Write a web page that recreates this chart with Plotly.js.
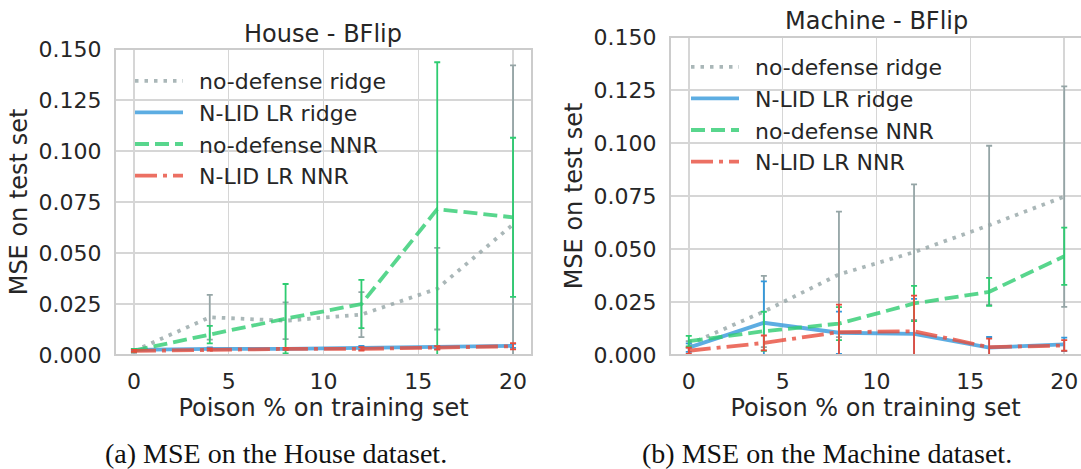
<!DOCTYPE html>
<html>
<head>
<meta charset="utf-8">
<script src="https://cdn.plot.ly/plotly-3.0.1.min.js"></script>
<style>html,body{margin:0;padding:0;background:#fff;}#chart{width:1081px;height:469px;}</style>
</head>
<body>
<div id="chart"></div>
<script>
// ---- data ----
const poisonPct = [0, 4, 8, 12, 16, 20];
const seriesNames = ["no-defense ridge", "N-LID LR ridge", "no-defense NNR", "N-LID LR NNR"];

// House dataset (MSE mean and std)
const houseNoDefRidge    = [0.0020, 0.0185, 0.0168, 0.0198, 0.0325, 0.0640];
const houseNoDefRidgeErr = [0.0010, 0.0110, 0.0090, 0.0110, 0.0200, 0.0780];
const houseNlidRidge     = [0.0025, 0.0030, 0.0030, 0.0035, 0.0037, 0.0045];
const houseNlidRidgeErr  = [0.0005, 0.0007, 0.0005, 0.0010, 0.0008, 0.0010];
const houseNoDefNNR      = [0.0022, 0.0100, 0.0178, 0.0250, 0.0715, 0.0675];
const houseNoDefNNRErr   = [0.0008, 0.0043, 0.0170, 0.0118, 0.0720, 0.0390];
const houseNlidNNR       = [0.0020, 0.0027, 0.0030, 0.0030, 0.0035, 0.0043];
const houseNlidNNRErr    = [0.0005, 0.0005, 0.0005, 0.0008, 0.0008, 0.0015];

// Machine dataset
const machNoDefRidge    = [0.0050, 0.0205, 0.0380, 0.0485, 0.0612, 0.0747];
const machNoDefRidgeErr = [0.0015, 0.0168, 0.0296, 0.0320, 0.0375, 0.0520];
const machNlidRidge     = [0.0035, 0.0152, 0.0105, 0.0100, 0.0035, 0.0050];
const machNlidRidgeErr  = [0.0020, 0.0195, 0.0100, 0.0165, 0.0050, 0.0032];
const machNoDefNNR      = [0.0065, 0.0112, 0.0148, 0.0243, 0.0298, 0.0466];
const machNoDefNNRErr   = [0.0025, 0.0092, 0.0078, 0.0083, 0.0066, 0.0135];
const machNlidNNR       = [0.0020, 0.0057, 0.0108, 0.0112, 0.0037, 0.0045];
const machNlidNNRErr    = [0.0015, 0.0035, 0.0130, 0.0168, 0.0040, 0.0025];

const xTickVals = [0, 5, 10, 15, 20];
const yTickVals = [0, 0.025, 0.05, 0.075, 0.1, 0.125, 0.15];
const yTickText = ["0.000", "0.025", "0.050", "0.075", "0.100", "0.125", "0.150"];
const titles = ["House - BFlip", "Machine - BFlip"];
const captions = ["(a) MSE on the House dataset.", "(b) MSE on the Machine dataset."];
const xTitle = "Poison % on training set";
const yTitle = "MSE on test set";

// ---- styles ----
const styles = [
  {line: {color: "rgba(149,165,166,0.8)", width: 3.8, dash: "3.5px,6px"}, err: "#95a5a6"},
  {line: {color: "rgba(52,152,219,0.8)", width: 3.8, dash: "solid"}, err: "#3498db"},
  {line: {color: "rgba(46,204,113,0.8)", width: 3.8, dash: "14px,6px"}, err: "#2ecc71"},
  {line: {color: "rgba(231,76,60,0.8)", width: 3.8, dash: "22px,6px,4px,6px"}, err: "#e74c3c"}
];

const house = [[houseNoDefRidge, houseNoDefRidgeErr], [houseNlidRidge, houseNlidRidgeErr],
               [houseNoDefNNR, houseNoDefNNRErr], [houseNlidNNR, houseNlidNNRErr]];
const mach = [[machNoDefRidge, machNoDefRidgeErr], [machNlidRidge, machNlidRidgeErr],
              [machNoDefNNR, machNoDefNNRErr], [machNlidNNR, machNlidNNRErr]];

const traces = [];
function addSet(set, xa, ya, leg) {
  set.forEach((s, i) => {
    traces.push({
      type: "scatter", mode: "lines", x: poisonPct, y: s[0],
      name: "\u2002" + seriesNames[i], xaxis: xa, yaxis: ya, legend: leg,
      line: styles[i].line,
      error_y: {type: "data", array: s[1], visible: true, color: styles[i].err, thickness: 1.8, width: 3}
    });
  });
}
addSet(house, "x", "y", "legend");
addSet(mach, "x2", "y2", "legend2");

const W = 1081, H = 469;
const FONT = "DejaVu Sans";
const TXT = "#262626";
const GRID = "#d6d6d6";

function xAxis(domain, range, anchor) {
  return {
    domain: domain, range: range, anchor: anchor,
    tickvals: xTickVals, ticks: "outside", ticklen: 7, tickcolor: "rgba(0,0,0,0)",
    showgrid: true, gridcolor: GRID, gridwidth: 1.5, zeroline: false, showline: false,
    tickfont: {family: FONT, size: 22, color: TXT},
    title: {text: xTitle, font: {family: FONT, size: 24, color: TXT}, standoff: 3},
    fixedrange: true
  };
}
function yAxis(domain, anchor) {
  return {
    domain: domain, range: [0, 0.15], anchor: anchor,
    tickvals: yTickVals, ticktext: yTickText, ticks: "outside", ticklen: 8, tickcolor: "rgba(0,0,0,0)",
    showgrid: true, gridcolor: GRID, gridwidth: 1.5, zeroline: false, showline: false,
    tickfont: {family: FONT, size: 22, color: TXT},
    title: {text: yTitle, font: {family: FONT, size: 24, color: TXT}, standoff: 4},
    fixedrange: true
  };
}

const xL = [115 / W, 532 / W];
const yL = [(H - 355) / H, (H - 49) / H];
const xR = [670 / W, 1];
const yR = [(H - 355) / H, (H - 37) / H];

const layout = {
  width: W, height: H,
  margin: {l: 0, r: 0, t: 0, b: 0},
  paper_bgcolor: "#ffffff", plot_bgcolor: "#ffffff",
  font: {family: FONT, color: TXT},
  showlegend: true,
  xaxis: xAxis(xL, [-1, 21], "y"),
  yaxis: yAxis(yL, "x"),
  xaxis2: xAxis(xR, [-1, -1 + 22 * (1081 - 670) / (1083 - 670)], "y2"),
  yaxis2: yAxis(yR, "x2"),
  legend: {
    x: 130 / W, y: (H - 60) / H, xanchor: "left", yanchor: "top",
    bgcolor: "rgba(0,0,0,0)", borderwidth: 0, itemwidth: 48,
    font: {family: FONT, size: 22, color: TXT}, tracegroupgap: 0
  },
  legend2: {
    x: 686 / W, y: (H - 46) / H, xanchor: "left", yanchor: "top",
    bgcolor: "rgba(0,0,0,0)", borderwidth: 0, itemwidth: 48,
    font: {family: FONT, size: 22, color: TXT}, tracegroupgap: 0
  },
  shapes: [
    {type: "rect", xref: "x domain", yref: "y domain", x0: 0, x1: 1, y0: 0, y1: 1,
     line: {color: "#cccccc", width: 2}, fillcolor: "rgba(0,0,0,0)", layer: "above"},
    {type: "rect", xref: "x2 domain", yref: "y2 domain", x0: 0, x1: 1.006, y0: 0, y1: 1,
     line: {color: "#cccccc", width: 2}, fillcolor: "rgba(0,0,0,0)", layer: "above"}
  ],
  annotations: [
    {text: titles[0], xref: "paper", yref: "paper", x: 323 / W, y: (H - 34) / H,
     xanchor: "center", yanchor: "middle", showarrow: false, font: {family: FONT, size: 24, color: TXT}},
    {text: titles[1], xref: "paper", yref: "paper", x: 876 / W, y: (H - 21) / H,
     xanchor: "center", yanchor: "middle", showarrow: false, font: {family: FONT, size: 24, color: TXT}},
    {text: captions[0], xref: "paper", yref: "paper", x: 276 / W, y: (H - 453) / H,
     xanchor: "center", yanchor: "middle", showarrow: false, font: {family: "Liberation Serif", size: 28, color: "#111111"}},
    {text: captions[1], xref: "paper", yref: "paper", x: 827 / W, y: (H - 453) / H,
     xanchor: "center", yanchor: "middle", showarrow: false, font: {family: "Liberation Serif", size: 28, color: "#111111"}}
  ]
};

Plotly.newPlot("chart", traces, layout, {staticPlot: true, displayModeBar: false});
</script>
</body>
</html>
